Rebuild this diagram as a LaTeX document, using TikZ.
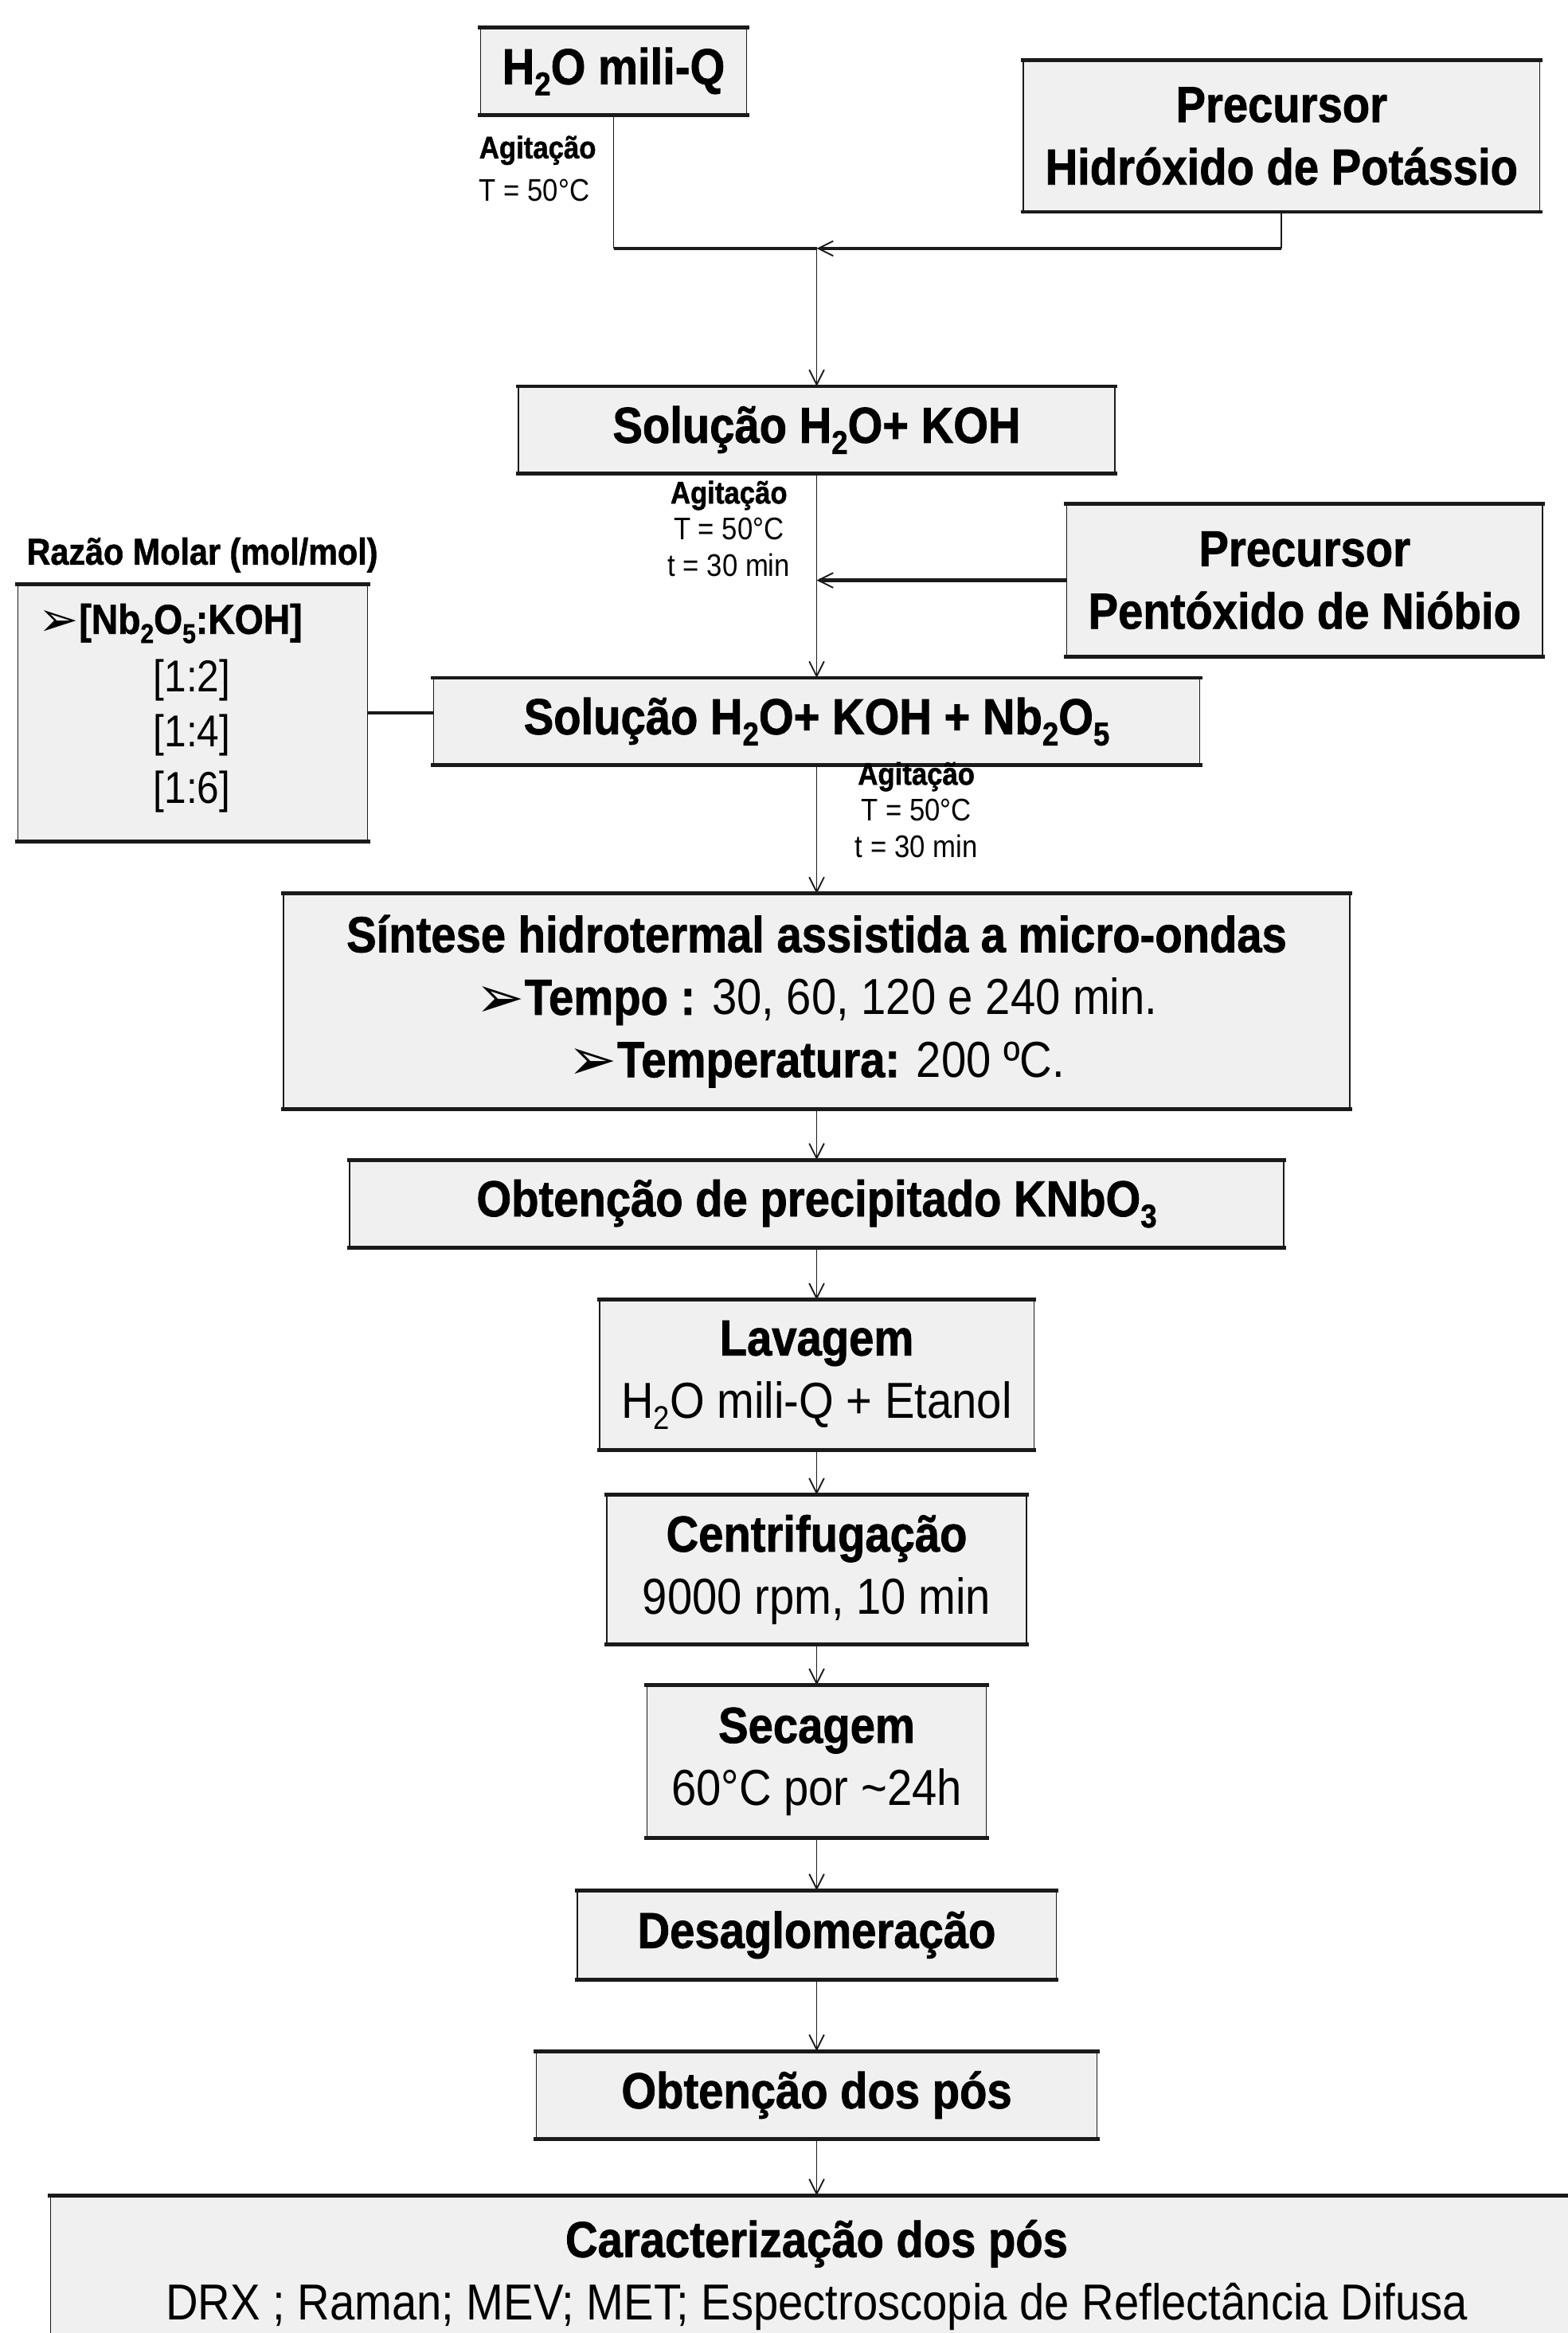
\documentclass[tikz,border=0pt]{standalone}
\usepackage{graphicx}
\usepackage{fontspec}
\setmainfont{Liberation Sans}[FakeStretch=0.885, BoldFeatures={FakeBold=1.2}]
\newfontfamily\dejavu{DejaVu Sans}
\usetikzlibrary{arrows.meta}
\definecolor{boxfill}{HTML}{F0F0F0}
\definecolor{edgecol}{HTML}{1A1A1A}
\newcommand{\mysub}[1]{\raisebox{-0.22em}{\scalebox{0.65}{#1}}}
\newcommand{\bul}{\raisebox{-0.05em}{\scalebox{1.15}{\dejavu ➢}}}
\tikzset{
  box/.style={draw=edgecol, line width=0.8pt, fill=boxfill, inner sep=0pt, align=center,
    font=\fontsize{34}{42}\selectfont},
  lbl/.style={inner sep=0pt, align=center, font=\fontsize{21}{24.5}\selectfont},
  conn/.style={line width=1pt, draw=edgecol},
  hconn/.style={line width=2.2pt, draw=edgecol},
  arr/.style={-{Straight Barb[length=10pt,width=10pt,line width=1pt]}},
  edgeline/.style={line width=2.6pt, draw=edgecol, line cap=rect},
  rz/.style={inner sep=0pt, font=\fontsize{30}{34}\selectfont},
}
\begin{document}
\begin{tikzpicture}[x=1pt,y=-1pt]
\useasboundingbox (0,0) rectangle (1054,1568);
\clip (0,0) rectangle (1054,1568);
% boxes
\node[box, minimum width=179pt, minimum height=58pt] (h2o) at (412.5,48) {\textbf{H\mysub{2}O mili-Q}};
\node[box, minimum width=347pt, minimum height=101pt] (koh) at (861.5,91.5) {\textbf{Precursor}\\\textbf{Hidróxido de Potássio}};
\node[box, minimum width=401pt, minimum height=58pt] (sol1) at (549,289) {\textbf{Solução H\mysub{2}O+ KOH}};
\node[box, minimum width=320pt, minimum height=102pt] (nb) at (877,390) {\textbf{Precursor}\\\textbf{Pentóxido de Nióbio}};
\node[box, minimum width=515pt, minimum height=58pt] (sol2) at (549,485) {\textbf{Solução H\mysub{2}O+ KOH + Nb\mysub{2}O\mysub{5}}};
\node[box, minimum width=235pt, minimum height=172pt] (razao) at (129.5,479) {};
\node[box, minimum width=717pt, minimum height=144pt] (sint) at (549,673) {\textbf{Síntese hidrotermal assistida a micro-ondas}\\\bul\textbf{Tempo :} 30, 60, 120 e 240 min.\\\bul\textbf{Temperatura:} 200 ºC.};
\node[box, minimum width=628pt, minimum height=58pt] (obt) at (549,809) {\textbf{Obtenção de precipitado KNbO\mysub{3}}};
\node[box, minimum width=292pt, minimum height=100pt] (lav) at (549,924) {\textbf{Lavagem}\\H\mysub{2}O mili-Q + Etanol};
\node[box, minimum width=282pt, minimum height=100pt] (cent) at (549,1055) {\textbf{Centrifugação}\\9000 rpm, 10 min};
\node[box, minimum width=228pt, minimum height=102pt] (sec) at (549,1184) {\textbf{Secagem}\\60°C por \textasciitilde24h};
\node[box, minimum width=322pt, minimum height=59pt] (desag) at (549,1300.5) {\textbf{Desaglomeração}};
\node[box, minimum width=377pt, minimum height=58pt] (obtp) at (549,1408) {\textbf{Obtenção dos pós}};
\node[box, minimum width=1030pt, minimum height=106pt] (carac) at (549,1529) {\textbf{Caracterização dos pós}\\DRX ; Raman; MEV; MET; Espectroscopia de Reflectância Difusa};
\foreach \n in {h2o,koh,sol1,nb,sol2,razao,sint,obt,lav,cent,sec,desag,obtp,carac}{
  \draw[edgeline] (\n.north west) -- (\n.north east);
  \draw[edgeline] (\n.south west) -- (\n.south east);
}
% razao contents
\node[rz, anchor=west, font=\fontsize{28}{34}\selectfont] (rz1) at (26,419) {\bul\textbf{[Nb\mysub{2}O\mysub{5}:KOH]}};
\node[rz] (rz2) at (129,457) {[1:2]};
\node[rz] (rz3) at (129,494) {[1:4]};
\node[rz] (rz4) at (129,532) {[1:6]};
\node[inner sep=0pt, font=\bfseries\fontsize{25}{28}\selectfont] (rzl) at (136,373) {Razão Molar (mol/mol)};
% labels
\node[lbl, align=left, anchor=north west, font=\fontsize{21}{29}\selectfont] (lab1) at (322,91) {\textbf{Agitação}\\T = 50°C};
\node[lbl, anchor=north] (lab2) at (490,323) {\textbf{Agitação}\\T = 50°C\\t = 30 min};
\node[lbl, anchor=north] (lab3) at (616,512) {\textbf{Agitação}\\T = 50°C\\t = 30 min};
% connectors
\coordinate (j1) at (549,167);
\draw[conn] (h2o.south) -- (h2o.south |- j1);
\draw[hconn] (h2o.south |- j1) -- (j1);
\draw[conn] (koh.south) -- (koh.south |- j1);
\draw[hconn,arr] (koh.south |- j1) -- (j1);
\draw[conn,arr] (j1) -- (sol1.north);
\draw[hconn,arr] (nb.west) -- (nb.west -| sol1.south);
\draw[conn,arr] (sol1.south) -- (sol2.north);
\draw[hconn] (razao.east) -- (razao.east -| sol2.west);
\draw[conn,arr] (sol2.south) -- (sint.north);
\draw[conn,arr] (sint.south) -- (obt.north);
\draw[conn,arr] (obt.south) -- (lav.north);
\draw[conn,arr] (lav.south) -- (cent.north);
\draw[conn,arr] (cent.south) -- (sec.north);
\draw[conn,arr] (sec.south) -- (desag.north);
\draw[conn,arr] (desag.south) -- (obtp.north);
\draw[conn,arr] (obtp.south) -- (carac.north);
\end{tikzpicture}
\end{document}
